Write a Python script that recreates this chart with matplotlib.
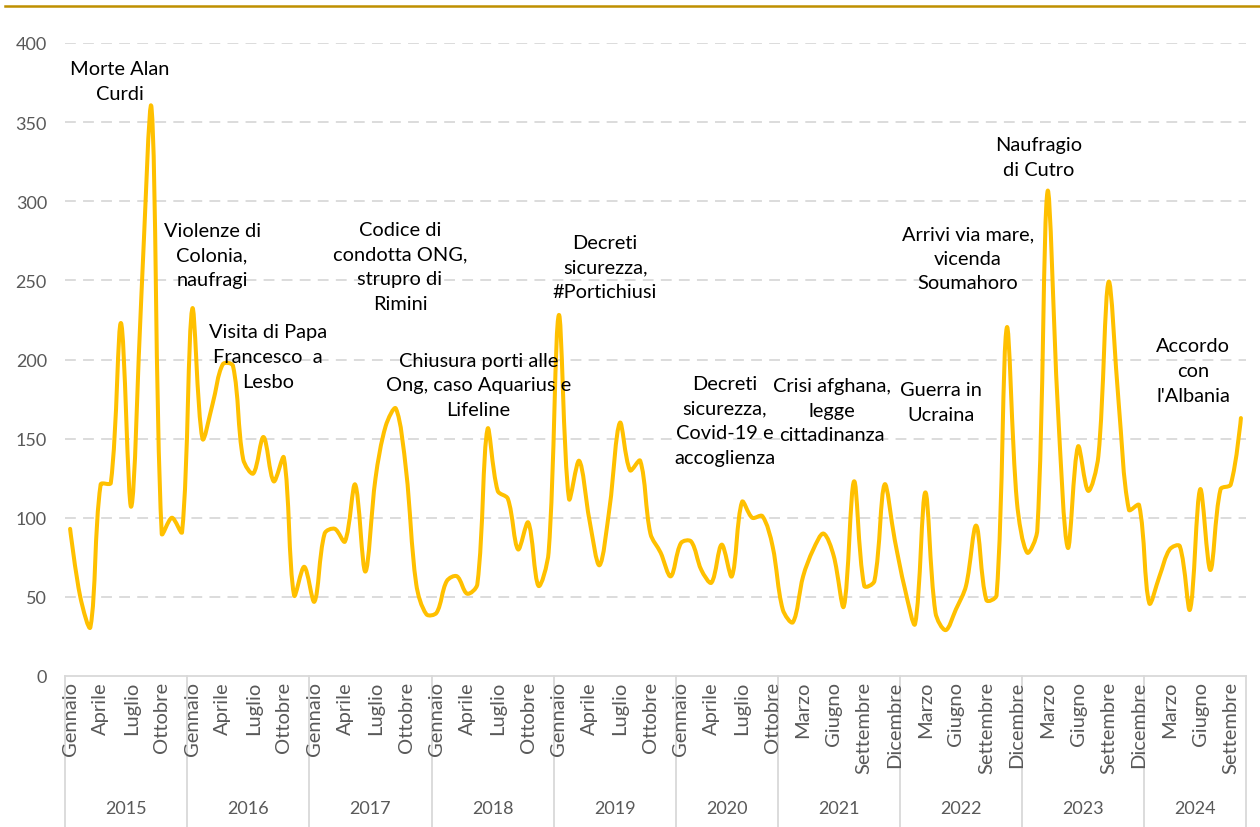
import matplotlib
matplotlib.use("Agg")
import matplotlib.pyplot as plt
from matplotlib.path import Path
from matplotlib.patches import PathPatch
from matplotlib.lines import Line2D
import matplotlib.transforms as mtransforms
import math

# --- dati ---
MESI = ['Gennaio', 'Febbraio', 'Marzo', 'Aprile', 'Maggio', 'Giugno',
        'Luglio', 'Agosto', 'Settembre', 'Ottobre', 'Novembre', 'Dicembre']
anni = [2015, 2016, 2017, 2018, 2019, 2020, 2021, 2022, 2023, 2024]
mesi_per_anno = [12, 12, 12, 12, 12, 10, 12, 12, 12, 10]

v2015 = [93, 50, 31, 121, 122, 223, 107, 240, 359, 90, 100, 91]
v2016 = [232, 150, 172, 197, 196, 137, 128, 151, 123, 138, 51, 69]
v2017 = [47, 90, 93, 85, 121, 66, 125, 158, 169, 130, 58, 39]
v2018 = [40, 60, 63, 52, 58, 156, 117, 112, 80, 97, 57, 78]
v2019 = [228, 112, 136, 99, 70, 107, 160, 130, 136, 90, 78, 63]
v2020 = [84, 85, 67, 59, 83, 63, 110, 100, 101, 82]
v2021 = [42, 34, 63, 80, 90, 76, 44, 123, 57, 60, 121, 86]
v2022 = [55, 33, 116, 40, 29, 42, 57, 95, 48, 51, 220, 110]
v2023 = [78, 92, 306, 172, 81, 145, 117, 139, 249, 172, 105, 108]
v2024 = [46, 63, 80, 82, 42, 118, 67, 118, 121, 163]

eventi = ['Morte Alan\nCurdi',
          'Violenze di\nColonia,\nnaufragi',
          'Visita di Papa\nFrancesco  a\nLesbo',
          'Codice di\ncondotta ONG,\nstrupro di\nRimini',
          'Chiusura porti alle\nOng, caso Aquarius e\nLifeline',
          'Decreti\nsicurezza,\n#Portichiusi',
          'Decreti\nsicurezza,\nCovid-19 e\naccoglienza',
          'Crisi afghana,\nlegge\ncittadinanza',
          'Guerra in\nUcraina',
          'Arrivi via mare,\nvicenda\nSoumahoro',
          'Naufragio\ndi Cutro',
          'Accordo\ncon\nl\'Albania']
# posizione delle etichette (indice mese, valore)
pos_eventi = [(4.9, 376), (13.95, 266), (19.45, 202), (32.4, 259),
              (40.1, 184), (52.55, 258.5), (64.3, 161.5), (74.85, 168),
              (85.5, 173), (88.2, 264), (95.1, 328), (110.3, 193)]

valori = v2015 + v2016 + v2017 + v2018 + v2019 + v2020 + v2021 + v2022 + v2023 + v2024
etichette = [MESI[m] for n in mesi_per_anno for m in range(n)]

FONT = ['Lato', 'DejaVu Sans']
GRIGIO = '#595959'
plt.rcParams['font.family'] = FONT

fig = plt.figure(figsize=(12.6, 8.28), dpi=100)
ax = fig.add_axes([65 / 1260, 151 / 828, 1181 / 1260, 633 / 828])


def linea_smussata(xs, ys, sx, sy):
    """Curva tipo Excel: tangenti pesate sulla lunghezza dei tratti (in pixel)."""
    n = len(xs)
    pts = list(zip(xs, ys))

    def dist(a, b):
        return math.hypot((a[0] - b[0]) * sx, (a[1] - b[1]) * sy)

    c_out, c_in = [], []
    for i in range(n):
        p = pts[i]
        if i == 0 or i == n - 1:
            c_out.append(p)
            c_in.append(p)
            continue
        prv, nxt = pts[i - 1], pts[i + 1]
        tx, ty = nxt[0] - prv[0], nxt[1] - prv[1]
        d1, d2 = dist(p, prv), dist(p, nxt)
        f_out = d2 / (d1 + d2) / 3
        f_in = d1 / (d1 + d2) / 3
        c_out.append((p[0] + tx * f_out, p[1] + ty * f_out))
        c_in.append((p[0] - tx * f_in, p[1] - ty * f_in))
    verts = [pts[0]]
    codes = [Path.MOVETO]
    for i in range(n - 1):
        verts += [c_out[i], c_in[i + 1], pts[i + 1]]
        codes += [Path.CURVE4] * 3
    return Path(verts, codes)


xs = list(range(len(valori)))
ax.add_patch(PathPatch(linea_smussata(xs, valori, 10.18, 1.5825), fill=False,
                       edgecolor='#FFC000', lw=2.9, capstyle='round',
                       joinstyle='round', zorder=3))

ax.set_xlim(-0.5, len(valori) - 0.5)
ax.set_ylim(0, 400)
ax.set_yticks(range(0, 401, 50))
ax.tick_params(axis='y', length=0, labelsize=13, labelcolor=GRIGIO, pad=13)
ax.set_xticks([])
for y in range(50, 401, 50):
    ax.axhline(y, color='#D9D9D9', lw=1.3, ls=(0, (6, 4)), zorder=1)
for s in ['top', 'right', 'left']:
    ax.spines[s].set_visible(False)
ax.spines['bottom'].set_color('#D9D9D9')
ax.spines['bottom'].set_linewidth(1.3)

# asse categorie a due livelli
trans = mtransforms.blended_transform_factory(ax.transData, ax.transAxes)
for i in range(0, len(etichette), 3):
    ax.text(i, -0.008, etichette[i], transform=trans, rotation=90,
            ha='center', va='top', fontsize=14.5, color=GRIGIO)
fondo = -151 / 633
inizio = 0
bordi = [-0.5]
for anno, n in zip(anni, mesi_per_anno):
    ax.text(inizio + (n - 1) / 2, -0.208, str(anno), transform=trans,
            ha='center', va='center', fontsize=13, color=GRIGIO)
    inizio += n
    bordi.append(inizio - 0.5)
for b in bordi:
    ax.add_line(Line2D([b, b], [0, fondo], transform=trans, color='#D9D9D9',
                       lw=1.3, clip_on=False))

for testo, (x, y) in zip(eventi, pos_eventi):
    ax.text(x, y, testo, ha='center', va='center', fontsize=14.4,
            color='black', linespacing=1.55, zorder=4)

# linea decorativa in alto
fig.add_artist(Line2D([5 / 1260, 1], [1 - 7 / 828, 1 - 7 / 828],
                      color='#BF9000', lw=1.8))

fig.savefig('out.png', dpi=100)
